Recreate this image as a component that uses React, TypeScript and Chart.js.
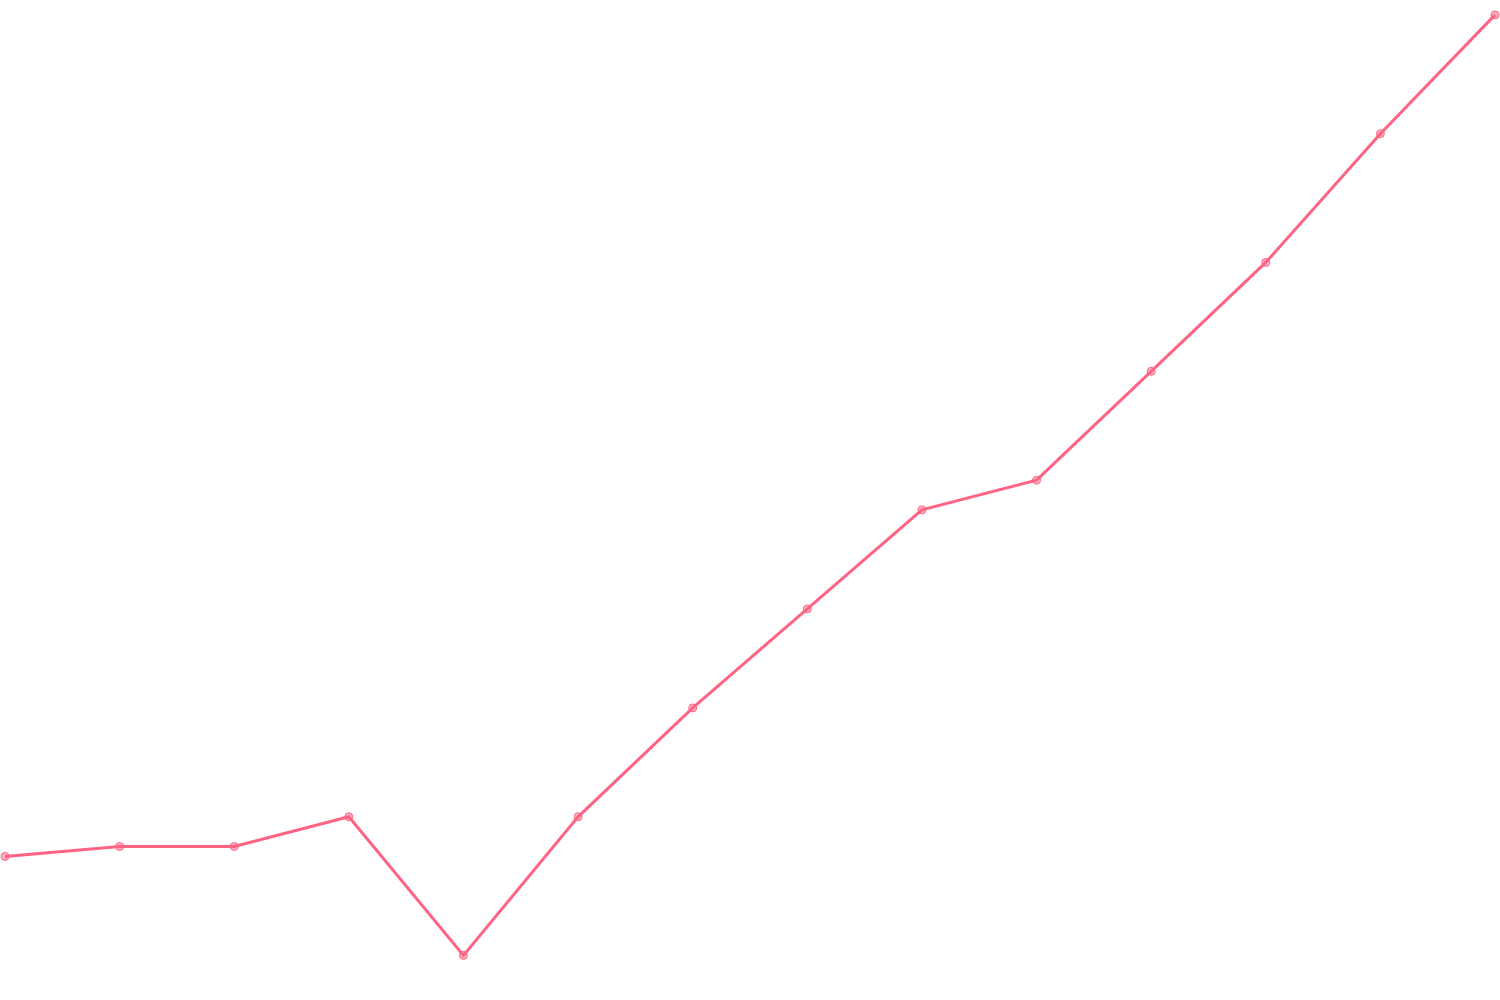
import { useEffect, useRef } from 'react';
import { Chart, registerables } from 'chart.js';

Chart.register(...registerables);

const labels = ['1', '2', '3', '4', '5', '6', '7', '8', '9', '10', '11', '12', '13', '14'];
const values = [14, 15, 15, 18, 4, 18, 29, 39, 49, 52, 63, 74, 87, 99];
const yMin = 0;
const yMax = 100;

export default function App() {
  const canvasRef = useRef<HTMLCanvasElement>(null);
  const chartRef = useRef<Chart | null>(null);

  useEffect(() => {
    document.body.style.margin = '0';
    if (!canvasRef.current) return;
    chartRef.current?.destroy();

    chartRef.current = new Chart(canvasRef.current, {
      type: 'line',
      data: {
        labels,
        datasets: [{
          label: 'Series',
          data: values,
          borderColor: 'rgb(255, 99, 132)',
          backgroundColor: 'rgba(255, 99, 132, 0.5)',
          borderWidth: 3,
          pointBorderWidth: 1,
          pointRadius: 4,
        }],
      },
      options: {
        animation: false,
        responsive: true,
        maintainAspectRatio: false,
        plugins: {
          legend: { display: false },
          tooltip: { enabled: false },
        },
        scales: {
          x: { display: false },
          y: { display: false, min: yMin, max: yMax },
        },
      },
    });

    return () => { chartRef.current?.destroy(); chartRef.current = null; };
  }, []);

  return (
    <div style={{ position: 'relative', width: 1500, height: 1000 }}>
      <canvas ref={canvasRef} />
    </div>
  );
}
